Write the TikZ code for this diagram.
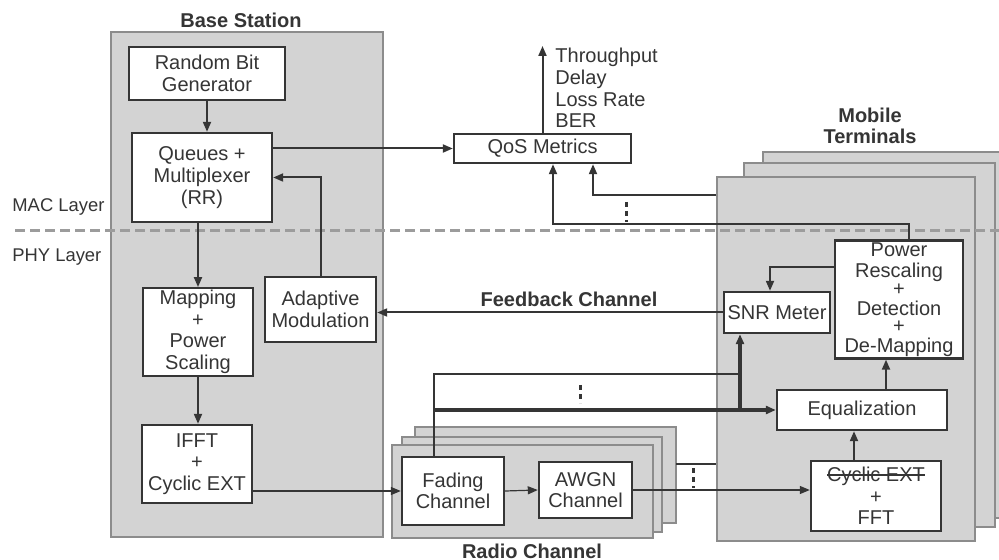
\documentclass[tikz,border=0pt]{standalone}
\usepackage{fontspec}
\setmainfont{Liberation Sans}
\usetikzlibrary{arrows.meta,calc}
\definecolor{ink}{HTML}{353535}
\definecolor{panel}{HTML}{D3D3D3}
\definecolor{layer}{HTML}{9C9C9C}
\newcommand\struck[1]{{\setbox0\hbox{#1}\rlap{\rule[0.3em]{\wd0}{0.6pt}}\box0}}
\begin{document}
\begin{tikzpicture}
[x=0.5pt, y=-0.5pt, font=\fontsize{10}{10.8}\selectfont, color=ink, >={Triangle[length=5pt,width=4pt]}]
\tikzstyle{panel}=[fill=panel, draw=black!45, line width=0.6pt, inner sep=0pt]
\tikzstyle{block}=[rectangle, draw=ink, fill=white, line width=1.2pt, align=center, inner sep=1pt]
\tikzstyle{title}=[font=\fontsize{10}{10.8}\selectfont\bfseries, align=center]
\tikzstyle{line}=[draw=ink, line width=1pt]
\tikzstyle{thinline}=[draw=ink, line width=0.6pt]
\tikzstyle{heavy}=[draw=ink, line width=1.6pt]
\tikzstyle{vdots}=[draw=ink, line width=1.5pt, dash pattern=on 2.5pt off 2pt]
\useasboundingbox (0,0) rectangle (999,560);
\fill[white] (0,0) rectangle (999,560);

% containers
\node[panel, minimum width=136pt, minimum height=252.5pt] (BS) at (247,284.5) {};
\node[panel, minimum width=130.5pt, minimum height=48pt] (rBack) at (545.5,475) {};
\node[panel, minimum width=130pt, minimum height=47.5pt] (rMid) at (532,484.5) {};
\node[panel, minimum width=130.5pt, minimum height=46.5pt] (rFront) at (522.5,491.5) {};
\node[panel, minimum width=121pt, minimum height=183pt] (mBack) at (884,335) {};
\node[panel, minimum width=125.5pt, minimum height=182pt] (mMid) at (869.5,345) {};
\node[panel, minimum width=129pt, minimum height=182pt] (mFront) at (846,359) {};

\node[title] (BSlabel) at (241,20) {Base Station};
\node[title] (MTlabel) at (870,126) {Mobile\\Terminals};
\node[title] (RClabel) at (532,551) {Radio Channel};

% MAC / PHY boundary
\coordinate (layerL) at (15,231);
\coordinate (layerR) at (999,231);
\draw[layer, line width=1.5pt, dash pattern=on 5pt off 2.5pt] (layerL) -- (layerR);
\node[anchor=west, inner sep=0pt, font=\fontsize{9.2}{10}\selectfont] (MAC) at (12,207) {MAC Layer};
\node[anchor=west, inner sep=0pt, font=\fontsize{9.2}{10}\selectfont] (PHY) at (12,257) {PHY Layer};

% base station
\node[block, minimum width=78pt, minimum height=26.5pt] (RBG) at (207,73.5) {Random Bit\\Generator};
\node[block, minimum width=70pt, minimum height=44.5pt] (Queues) at (202,177.5) {Queues +\\Multiplexer\\(RR)};
\node[block, minimum width=55pt, minimum height=43pt] (Mapping) at (198,332) {Mapping\\+\\Power\\Scaling};
\node[block, minimum width=55.5pt, minimum height=32.5pt] (Adaptive) at (320.5,309.5) {Adaptive\\Modulation};
\node[block, minimum width=55pt, minimum height=39pt] (IFFT) at (197,464) {IFFT\\+\\Cyclic EXT};

% QoS
\node[block, minimum width=88.5pt, minimum height=14.5pt] (QoS) at (542.5,148.5) {QoS Metrics};
\node[anchor=west, align=left, inner sep=0pt] (metrics) at (555,88) {Throughput\\Delay\\Loss Rate\\BER};

% radio channel
\node[block, minimum width=51pt, minimum height=34pt] (Fading) at (453,491) {Fading\\Channel};
\node[block, minimum width=46.5pt, minimum height=28pt] (AWGN) at (585.5,490) {AWGN\\Channel};

% mobile terminal
\node[block, minimum width=53pt, minimum height=20.5pt] (SNR) at (777,312.5) {SNR Meter};
\node[block, minimum width=64pt, minimum height=57.5pt] (Power) at (899,299.5) {Power\\Rescaling\\[-2pt]+\\[-1pt]Detection\\[-2pt]+\\[-1pt]De-Mapping};
\node[block, minimum width=85pt, minimum height=20pt] (Eq) at (862,410) {Equalization};
\node[block, minimum width=65pt, minimum height=35pt] (FFT) at (876,496) {\struck{Cyclic EXT}\\+\\FFT};

\node[title] (FBlabel) at (569,299) {Feedback Channel};

% connectors
\draw[line,->] (RBG.south) -- (RBG.south |- Queues.north);
\draw[line,->] (Queues.east |- QoS.west) -- (QoS.west);
\draw[line,->] (Adaptive.north) |- (Queues.east);
\draw[line,->] (Mapping.north |- Queues.south) -- (Mapping.north);
\draw[line,->] (Mapping.south) -- (Mapping.south |- IFFT.north);
\draw[thinline,->] (IFFT.east |- Fading.west) -- (Fading.west);
\draw[thinline,->] (Fading.east) -- (AWGN.west);
\draw[thinline,->] (AWGN.east) -- (AWGN.east -| FFT.west);
\coordinate (stub) at (676,464);
\draw[line] (stub) -- (stub -| mFront.west);
\coordinate (dotsA) at (693,468);
\draw[vdots] (dotsA) -- ++(0,20);

\coordinate (tap) at ($(Fading.north)+(-19,0)$);
\coordinate (snrIn) at ($(SNR.south)+(-37,0)$);
\draw[line] (tap) -- (tap |- 0,374) -- (snrIn |- 0,374);
\draw[heavy,->] (tap |- Eq.west) -- (Eq.west);
\draw[heavy,->] (snrIn |- Eq.west) -- (snrIn);
\coordinate (dotsB) at (580,385);
\draw[vdots] (dotsB) -- ++(0,18);

\draw[line,->] ($(Power.west)+(0,-32)$) -| ($(SNR.north)+(-7,0)$);
\draw[line,->] (SNR.west) -- (SNR.west -| Adaptive.east);
\coordinate (fftOut) at ($(FFT.north)+(-22,0)$);
\draw[line,->] (fftOut) -- (fftOut |- Eq.south);
\coordinate (eqOut) at ($(Eq.north)+(24,0)$);
\draw[line,->] (eqOut) -- (eqOut |- Power.south);

\coordinate (pwOut) at ($(Power.north)+(10,0)$);
\coordinate (qosInA) at ($(QoS.south)+(10.5,0)$);
\coordinate (qosInB) at ($(QoS.south)+(50.5,0)$);
\draw[line,->] (pwOut) |- (qosInA |- 0,224) -- (qosInA);
\draw[line,->] (mFront.west |- 0,195) -| (qosInB);
\coordinate (dotsC) at (626,202);
\draw[vdots] (dotsC) -- ++(0,20);
\coordinate (qosTop) at (544,46);
\draw[line,->] (QoS.north) -- (QoS.north |- qosTop);
\end{tikzpicture}
\end{document}
